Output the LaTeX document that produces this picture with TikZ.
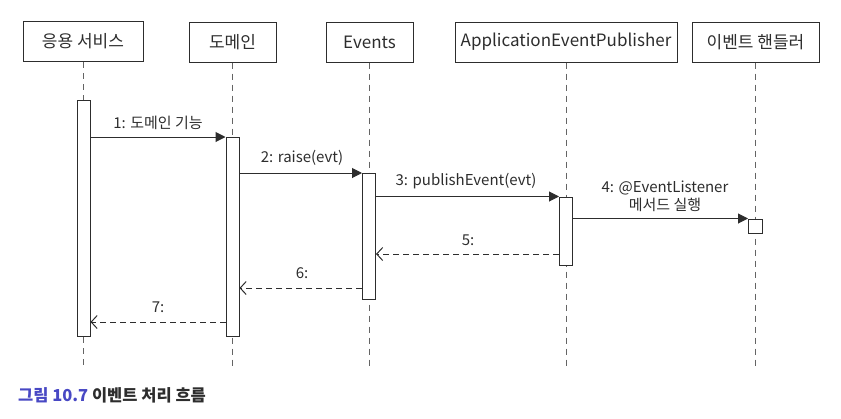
\documentclass[tikz,border=0pt]{standalone}
\usepackage{fontspec}
\setmainfont{Noto Sans CJK KR}
\usetikzlibrary{arrows.meta}
\definecolor{ink}{RGB}{45,45,45}
\definecolor{lifegray}{RGB}{100,100,100}
\definecolor{capblue}{RGB}{72,72,196}
\tikzset{
  head/.style={draw=ink, line width=1pt, minimum height=40pt, inner sep=0pt,
               font=\fontsize{17}{20}\selectfont, text=ink},
  life/.style={draw=lifegray, line width=0.8pt, dash pattern=on 6pt off 5pt},
  act/.style={draw=ink, line width=1pt, fill=white, minimum width=13pt,
              inner sep=0pt, anchor=north},
  msg/.style={draw=ink, line width=1pt, -{Triangle[length=10pt,width=10pt]}},
  ret/.style={draw=ink, line width=1pt, dash pattern=on 6pt off 4pt,
              -{Straight Barb[length=6pt,width=13pt,line width=1pt]}},
  lbl/.style={font=\fontsize{15}{18}\selectfont, text=ink, inner sep=0pt, align=center}
}
\begin{document}
\begin{tikzpicture}[x=1pt,y=-1pt]
\useasboundingbox (0,0) rectangle (841,418);

% participants
\node[head, minimum width=120pt] (svc) at (83,41.5) {응용 서비스};
\node[head, minimum width=87pt]  (dom) at (232.5,42) {도메인};
\node[head, minimum width=87pt]  (evs) at (369.5,42) {Events};
\node[head, minimum width=222pt] (pub) at (566,42) {ApplicationEventPublisher};
\node[head, minimum width=127pt] (hdl) at (755.5,42) {이벤트 핸들러};

% lifeline ends
\coordinate (svcEnd) at (83,368);
\coordinate (domEnd) at (232,368);
\coordinate (evsEnd) at (369,368);
\coordinate (pubEnd) at (566,368);
\coordinate (hdlEnd) at (755,368);

\draw[life] (svc.south -| svcEnd) -- (svcEnd);
\draw[life] (dom.south -| domEnd) -- (domEnd);
\draw[life] (evs.south -| evsEnd) -- (evsEnd);
\draw[life] (pub.south -| pubEnd) -- (pubEnd);
\draw[life] (hdl.south -| hdlEnd) -- (hdlEnd);

% activation bars
\node[act, minimum height=236pt] (aSvc) at (83.5,100) {};
\node[act, minimum height=199pt] (aDom) at (232.5,137) {};
\node[act, minimum height=126pt] (aEvs) at (369,173) {};
\node[act, minimum height=68pt]  (aPub) at (566,196.5) {};
\node[draw=ink, line width=1pt, fill=white, minimum width=14pt, minimum height=14pt,
      inner sep=0pt] (aHdl) at (755.5,226) {};

% calls
\draw[msg] (aSvc.east |- aDom.north) -- (aDom.north west);
\draw[msg] (aDom.east |- aEvs.north) -- (aEvs.north west);
\draw[msg] (aEvs.east |- aPub.north) -- (aPub.north west);
\draw[msg] (aPub.east |- aHdl.north) -- (aHdl.north west);

% returns
\coordinate (r5) at (0,254);
\coordinate (r6) at (0,288);
\coordinate (r7) at (0,322);
\draw[ret] (aPub.west |- r5) -- (aEvs.east |- r5);
\draw[ret] (aEvs.west |- r6) -- (aDom.east |- r6);
\draw[ret] (aDom.west |- r7) -- (aSvc.east |- r7);

% message labels
\node[lbl] (l1) at (158,123) {1: 도메인 기능};
\node[lbl] (l2) at (302,158) {2: raise(evt)};
\node[lbl] (l3) at (466,181) {3: publishEvent(evt)};
\node[lbl] (l4) at (665,196) {4: @EventListener\\메서드 실행};
\node[lbl] (l5) at (468,240) {5:};
\node[lbl] (l6) at (302,273) {6:};
\node[lbl] (l7) at (158,307) {7:};

% caption
\node[anchor=west, inner sep=0pt, font=\bfseries\fontsize{16.5}{20}\selectfont] (cap) at (18,395)
  {\textcolor{capblue}{그림 10.7} \textcolor{ink}{이벤트 처리 흐름}};
\end{tikzpicture}
\end{document}
